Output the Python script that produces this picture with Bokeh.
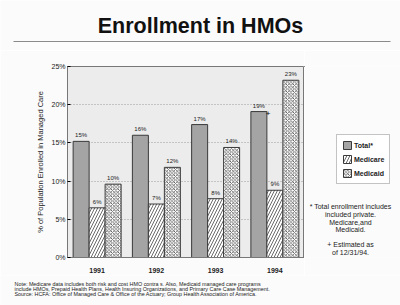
from bokeh.plotting import figure
from bokeh.models import (ColumnDataSource, FactorRange, Range1d, Label, Legend, LegendItem,
                          BoxAnnotation, FixedTicker, CustomJSTickFormatter)
from bokeh.layouts import column, row
from bokeh.transform import dodge
from bokeh.core.properties import value
from bokeh.embed import file_html
from bokeh.resources import INLINE

years = ["1991", "1992", "1993", "1994"]
total = [15.2, 16.0, 17.4, 19.1]
medicare = [6.5, 7.0, 7.7, 8.8]
medicaid = [9.6, 11.8, 14.4, 23.2]
total_lbl = ["15%", "16%", "17%", "19%"]
medicare_lbl = ["6%", "7%", "8%", "9%"]
medicaid_lbl = ["10%", "12%", "14%", "23%"]
y_ticks = [0, 5, 10, 15, 20, 25]
series_names = ["Total*", "Medicare", "Medicaid"]
footnotes = ["* Total enrollment includes", "included private.", "Medicare,and", "Medicaid.",
             "+ Estimated as", "of 12/31/94."]
notes = ["Note: Medicare data includes both risk and cost HMO contra s.  Also, Medicaid managed care programs",
         "include HMOs, Prepaid Health Plans, Health Insuring Organizations, and Primary Care Case Management.",
         "Source: HCFA: Office of Managed Care & Office of the Actuary; Group Health Association of America."]

FONT = "Liberation Sans"
PAGE = "#fbfbfb"
INK = "#222222"
W = 400
TOP_H, MAIN_H, BOT_H = 50, 225, 30
MAIN_W = 304
SIDE_W = W - MAIN_W
BT, BB = 16, 18          # main chart top/bottom borders
FT, FB = TOP_H + BT, TOP_H + MAIN_H - BB   # page y of frame top/bottom

total_style = dict(fill_color="#a4a4a4", line_color="#3a3a3a", line_width=1)
medicare_style = dict(fill_color="#ffffff", line_color="#3a3a3a", line_width=1,
                      hatch_pattern="right_diagonal_line", hatch_color="#444444",
                      hatch_scale=6, hatch_weight=0.8)
medicaid_style = dict(fill_color="#ffffff", line_color="#3a3a3a", line_width=1,
                      hatch_pattern="diagonal_cross", hatch_color="#444444",
                      hatch_scale=3.5, hatch_weight=0.8)


def blank_fig(w, h, xr, yr, **kw):
    f = figure(width=w, height=h, x_range=Range1d(*xr), y_range=Range1d(*yr),
               x_axis_type=None, y_axis_type=None,
               output_backend="svg", toolbar_location=None, min_border=0, **kw)
    f.grid.visible = False
    f.outline_line_color = None
    f.background_fill_color = PAGE
    f.border_fill_color = PAGE
    return f


# ---- title strip (page coordinates) ----
top = blank_fig(W, TOP_H, (0, W), (TOP_H, 0))
top.add_layout(Label(x=200, y=25, text="Enrollment in HMOs", text_font=FONT,
                     text_font_size="21.5px", text_font_style="bold", text_align="center",
                     text_baseline="middle", text_color="#111111"))
top.add_layout(BoxAnnotation(left=13, right=390, top=40.6, bottom=41.6, fill_color="#8a8a8a",
                             fill_alpha=1, line_color=None))

# ---- main chart ----
src = ColumnDataSource(dict(year=years, total=total, medicare=medicare, medicaid=medicaid,
                            tl=total_lbl, ml=medicare_lbl, dl=medicaid_lbl))

p = figure(width=MAIN_W, height=MAIN_H, x_range=FactorRange(factors=years, range_padding=0),
           y_range=Range1d(0, 25), output_backend="svg", toolbar_location=None,
           min_border_left=67, min_border_right=0, min_border_top=BT, min_border_bottom=BB)
p.border_fill_color = PAGE
p.background_fill_color = "#ececec"
p.outline_line_color = "#777777"

bw = 0.27
p.vbar(x=dodge("year", -bw, range=p.x_range), top="total", width=bw, source=src, **total_style)
p.vbar(x=dodge("year", 0, range=p.x_range), top="medicare", width=bw, source=src, **medicare_style)
p.vbar(x=dodge("year", bw, range=p.x_range), top="medicaid", width=bw, source=src, **medicaid_style)

lbl_kw = dict(text_font=value(FONT), text_font_size="6px", text_align="center",
              text_baseline="bottom", text_color=INK, y_offset=-3, source=src)
p.text(x=dodge("year", -bw, range=p.x_range), y="total", text="tl", **lbl_kw)
p.text(x=dodge("year", 0, range=p.x_range), y="medicare", text="ml", **lbl_kw)
p.text(x=dodge("year", bw, range=p.x_range), y="medicaid", text="dl", **lbl_kw)

est = ColumnDataSource(dict(year=[years[3]], total=[total[3]], t=["+"]))
p.text(x=dodge("year", -bw / 2 + 0.02, range=p.x_range), y="total", text="t", source=est,
       text_font=value(FONT), text_font_size="8px", text_align="center",
       text_baseline="middle", text_color="#111111", y_offset=2)

p.yaxis.ticker = FixedTicker(ticks=y_ticks)
p.yaxis.formatter = CustomJSTickFormatter(code="return tick + '%';")
p.yaxis.axis_label = "% of Population Enrolled in Managed Care"
p.yaxis.axis_label_text_font = FONT
p.yaxis.axis_label_text_font_style = "normal"
p.yaxis.axis_label_text_font_size = "7.5px"
p.yaxis.axis_label_text_color = INK
p.yaxis.axis_label_standoff = 3
p.yaxis.major_label_text_font = FONT
p.yaxis.major_label_text_font_size = "7px"
p.yaxis.major_label_text_color = INK
p.yaxis.major_label_standoff = 2
p.yaxis.major_tick_out = 0
p.yaxis.major_tick_in = 3
p.yaxis.minor_tick_line_color = None
p.yaxis.axis_line_color = "#777777"

p.xaxis.major_label_text_font = FONT
p.xaxis.major_label_text_font_size = "7px"
p.xaxis.major_label_text_font_style = "bold"
p.xaxis.major_label_text_color = INK
p.xaxis.major_label_standoff = 4
p.xaxis.major_tick_line_color = None
p.xaxis.minor_tick_line_color = None
p.xaxis.axis_line_color = "#777777"

p.xgrid.grid_line_color = None
p.ygrid.grid_line_color = "#888888"
p.ygrid.grid_line_dash = "1 2"
p.ygrid.grid_line_width = 0.8

# ---- right side: legend + footnotes (page coordinates; frame aligned with main) ----
side = blank_fig(SIDE_W, MAIN_H, (MAIN_W, W), (FB, FT),)
side.min_border_top = BT
side.min_border_bottom = BB
rs = [side.vbar(x="x", top="top", width=1, source=ColumnDataSource(dict(x=[-500], top=[-500])),
                **st) for st in (total_style, medicare_style, medicaid_style)]
legend = Legend(items=[LegendItem(label=n, renderers=[r]) for n, r in zip(series_names, rs)],
                location=(336 - MAIN_W, FB - 184))
legend.label_text_font = FONT
legend.label_text_font_size = "7px"
legend.label_text_font_style = "bold"
legend.label_text_color = INK
legend.glyph_width = 10
legend.glyph_height = 10
legend.label_standoff = 2
legend.label_height = 10
legend.spacing = 4
legend.padding = 5
legend.margin = 0
legend.border_line_color = "#888888"
legend.background_fill_color = "#ffffff"
side.add_layout(legend)

foot_y = [206, 214, 221.7, 229, 244, 252]
for t, yy in zip(footnotes, foot_y):
    side.add_layout(Label(x=350, y=yy, text=t, text_font=FONT, text_font_size="7px",
                          text_align="center", text_baseline="middle", text_color=INK))

# ---- bottom notes (page coordinates) ----
bot = blank_fig(W, BOT_H, (0, W), (W - 95, TOP_H + MAIN_H))
for i, t in enumerate(notes):
    bot.add_layout(Label(x=14, y=283 + i * 5, text=t, text_font=FONT, text_font_size="5.4px",
                         text_align="left", text_baseline="middle", text_color=INK))

layout = column(top, row(p, side, spacing=0), bot, spacing=0)
open("out.html", "w").write(file_html(layout, INLINE))
